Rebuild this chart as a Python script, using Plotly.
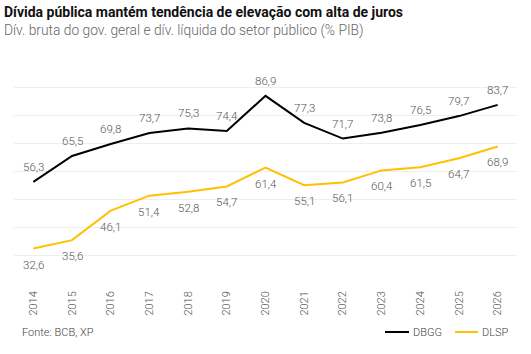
import plotly.graph_objects as go

years = [str(y) for y in range(2014, 2027)]
dbgg = [56.3, 65.5, 69.8, 73.7, 75.3, 74.4, 86.9, 77.3, 71.7, 73.8, 76.5, 79.7, 83.7]
dlsp = [32.6, 35.6, 46.1, 51.4, 52.8, 54.7, 61.4, 55.1, 56.1, 60.4, 61.5, 64.7, 68.9]
series_names = ["DBGG", "DLSP"]
series_colors = ["#000000", "#FFC000"]

title = "Dívida pública mantém tendência de elevação com alta de juros"
subtitle = "Dív. bruta do gov. geral e dív. líquida do setor público (% PIB)"
source = "Fonte: BCB, XP"

def fmt(v):
    return f"{v:.1f}".replace(".", ",")

FONT = "Roboto"
W, H = 531, 354
ML, MR, MT, MB = 14, 14, 59, 70
ph = H - MT - MB
pw = W - ML - MR

def py(ypix):
    return (H - MB - ypix) / ph

def px(xpix):
    return (xpix - ML) / pw

fig = go.Figure()
for name, vals, col in zip(series_names, [dbgg, dlsp], series_colors):
    fig.add_trace(go.Scatter(x=years, y=vals, name=name, mode="lines",
                             line=dict(color=col, width=2), showlegend=False))

annotations = []
for vals, shift in [(dbgg, 15), (dlsp, -16)]:
    for i, v in enumerate(vals):
        annotations.append(dict(x=i, y=v, xref="x", yref="y", text=fmt(v),
                                showarrow=False, yshift=shift,
                                font=dict(family=FONT, size=11.5, color="#555555", weight=300)))

annotations += [
    dict(text=f"<b>{title}</b>", x=px(2), y=py(12), xref="paper", yref="paper",
         xanchor="left", yanchor="middle", showarrow=False,
         font=dict(family=FONT, size=14, color="#111111")),
    dict(text=subtitle, x=px(2), y=py(30), xref="paper", yref="paper",
         xanchor="left", yanchor="middle", showarrow=False,
         font=dict(family=FONT, size=13.8, color="#666666", weight=300)),
    dict(text=source, x=px(20), y=py(332), xref="paper", yref="paper",
         xanchor="left", yanchor="middle", showarrow=False,
         font=dict(family=FONT, size=11, color="#444444", weight=300)),
]

# manual legend
shapes = []
leg = [(385, 409, 411), (455, 478, 480)]
for (x0, x1, tx), name, col in zip(leg, series_names, series_colors):
    shapes.append(dict(type="line", xref="paper", yref="paper",
                       x0=px(x0), x1=px(x1), y0=py(332), y1=py(332),
                       line=dict(color=col, width=2)))
    annotations.append(dict(text=name, x=px(tx), y=py(332), xref="paper", yref="paper",
                            xanchor="left", yanchor="middle", showarrow=False,
                            font=dict(family=FONT, size=11, color="#444444", weight=300)))

fig.update_layout(
    width=W, height=H,
    margin=dict(l=ML, r=MR, t=MT, b=MB, autoexpand=False),
    paper_bgcolor="white", plot_bgcolor="white",
    font=dict(family=FONT, color="#555555"),
    showlegend=False,
    annotations=annotations,
    shapes=shapes,
)
fig.update_xaxes(type="category", range=[-0.5, 12.5], showgrid=False,
                 tickangle=-90, tickfont=dict(family=FONT, size=11, color="#555555", weight=300),
                 ticklabelstandoff=4,
                 showline=False, ticks="", automargin=False)
fig.update_yaxes(range=[20, 100], dtick=10, showticklabels=False,
                 showgrid=True, gridcolor="#eeeeee", gridwidth=1, zeroline=False)

fig.write_html("out.html")
